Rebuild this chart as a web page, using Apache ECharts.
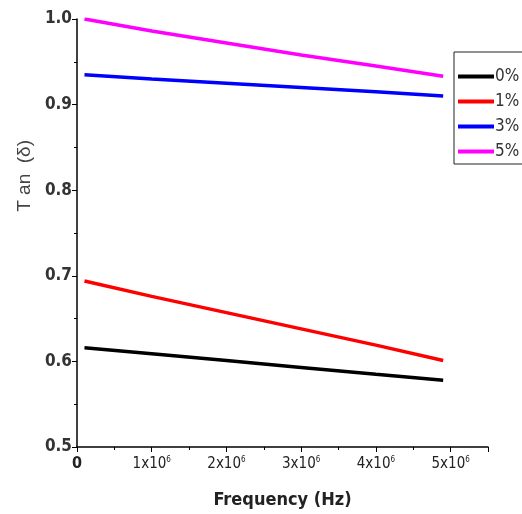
<!DOCTYPE html>
<html>
<head>
<meta charset="utf-8">
<script src="https://cdn.jsdelivr.net/npm/echarts@6/dist/echarts.min.js"></script>
<style>
html, body { margin: 0; padding: 0; background: #fff; }
#main { width: 522px; height: 514px; }
</style>
</head>
<body>
<div id="main"></div>
<script>
// frequency (Hz) sample points
var freq = [1e5, 1e6, 2e6, 3e6, 4e6, 4.9e6];
// tan(delta) for each doping level
var s0 = [0.616, 0.609, 0.601, 0.593, 0.585, 0.578];
var s1 = [0.694, 0.676, 0.657, 0.638, 0.619, 0.601];
var s3 = [0.935, 0.930, 0.925, 0.920, 0.915, 0.910];
var s5 = [1.000, 0.986, 0.972, 0.958, 0.945, 0.933];
var names = ['0%', '1%', '3%', '5%'];
var colors = ['#000000', '#ff0000', '#0000ff', '#ff00ff'];
var yTicks = [0.5, 0.6, 0.7, 0.8, 0.9, 1.0];

var font = "'DejaVu Sans Condensed', 'Liberation Sans Narrow', sans-serif";

function pairs(ys) {
    return freq.map(function (f, i) { return [f, ys[i]]; });
}

var dom = document.getElementById('main');
var myChart = echarts.init(dom);
var allData = [s0, s1, s3, s5];

var option = {
    animation: false,
    backgroundColor: '#fff',
    grid: { left: 77, right: 34, top: 19, bottom: 67 },
    graphic: [{
        type: 'text',
        left: 15,
        top: 140,
        rotation: Math.PI / 2,
        style: {
            text: 'T an  (δ)',
            font: "19px 'Liberation Sans', sans-serif",
            fill: '#444'
        }
    }],
    legend: {
        orient: 'vertical',
        left: 454,
        top: 52,
        width: 64,
        padding: [16, 4, 4, 4],
        itemGap: 8,
        itemWidth: 36,
        itemHeight: 4,
        icon: 'rect',
        borderColor: '#222',
        borderWidth: 1,
        data: names,
        textStyle: { fontFamily: font, fontSize: 17, color: '#333', padding: [0, 0, 0, -4] }
    },
    xAxis: {
        type: 'value',
        min: 0,
        max: 5.5e6,
        interval: 1e6,
        name: 'Frequency (Hz)',
        nameLocation: 'middle',
        nameGap: 44,
        nameTextStyle: { fontFamily: font, fontSize: 18, fontWeight: 'bold', color: '#222' },
        axisLine: { lineStyle: { color: '#000', width: 1.5 } },
        axisTick: { show: true, inside: false, length: 5, lineStyle: { color: '#000' } },
        minorTick: { show: true, splitNumber: 2, length: 3, lineStyle: { color: '#000' } },
        splitLine: { show: false },
        axisLabel: {
            fontFamily: font,
            fontSize: 15,
            color: '#222',
            margin: 9,
            showMaxLabel: false,
            formatter: function (v) {
                if (v === 0) return '{z|0}';
                if (v > 5e6) return '';
                return '{a|' + Math.round(v / 1e6) + 'x10}{s|6}';
            },
            rich: {
                z: { fontFamily: font, fontSize: 16, fontWeight: 'bold', color: '#222' },
                a: { fontFamily: font, fontSize: 15, color: '#222' },
                s: { fontFamily: font, fontSize: 8, color: '#222', verticalAlign: 'top', padding: [0, 0, 8, 0] }
            }
        }
    },
    yAxis: {
        type: 'value',
        min: yTicks[0],
        max: yTicks[yTicks.length - 1],
        interval: 0.1,
        axisLine: { show: true, lineStyle: { color: '#000', width: 1.5 } },
        axisTick: { show: true, inside: false, length: 5, lineStyle: { color: '#000' } },
        minorTick: { show: true, splitNumber: 2, length: 3, lineStyle: { color: '#000' } },
        splitLine: { show: false },
        axisLabel: {
            fontFamily: font,
            fontSize: 17,
            fontWeight: 'bold',
            color: '#333',
            margin: 5,
            formatter: function (v) { return v.toFixed(1); }
        }
    },
    series: names.map(function (n, i) {
        return {
            name: n,
            type: 'line',
            data: pairs(allData[i]),
            showSymbol: false,
            symbol: 'none',
            color: colors[i],
            lineStyle: { color: colors[i], width: 3.5 }
        };
    })
};

myChart.setOption(option, true);
</script>
</body>
</html>
